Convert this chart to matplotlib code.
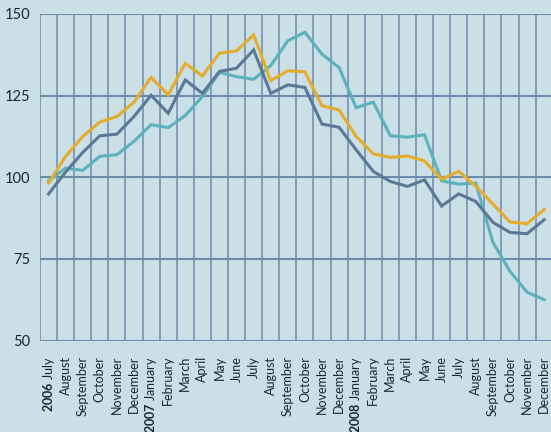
import matplotlib
matplotlib.use("Agg")
import matplotlib.pyplot as plt
import numpy as np

months = ["July", "August", "September", "October", "November", "December",
          "January", "February", "March", "April", "May", "June",
          "July", "August", "September", "October", "November", "December",
          "January", "February", "March", "April", "May", "June",
          "July", "August", "September", "October", "November", "December"]
years = {0: "2006", 6: "2007", 18: "2008"}

yellow = [98.2, 106.4, 112.5, 116.9, 118.6, 123.0, 130.6, 125.2, 134.9, 131.0,
          138.0, 138.7, 143.6, 129.6, 132.6, 132.3, 121.9, 120.6, 112.5, 107.2,
          106.1, 106.5, 105.0, 99.4, 101.8, 97.3, 91.8, 86.3, 85.8, 90.1]
slate = [94.9, 101.6, 107.6, 112.7, 113.2, 118.6, 125.1, 119.6, 129.8, 125.7,
         132.4, 133.4, 139.0, 125.7, 128.3, 127.5, 116.3, 115.3, 108.4, 101.8,
         98.7, 97.2, 99.2, 91.2, 94.9, 92.6, 86.2, 83.1, 82.7, 87.0]
teal = [98.9, 102.8, 102.1, 106.4, 106.9, 111.0, 116.1, 115.2, 118.9, 124.7,
        132.1, 130.8, 130.0, 134.2, 141.8, 144.4, 137.7, 133.6, 121.3, 123.0,
        112.7, 112.3, 113.0, 98.9, 97.9, 98.2, 80.1, 71.2, 64.8, 62.5]
yticks = [50, 75, 100, 125, 150]

plt.rcParams['font.family'] = ['Lato', 'DejaVu Sans']
plt.rcParams['mathtext.fontset'] = 'custom'
plt.rcParams['mathtext.bf'] = 'Lato:bold'
plt.rcParams['mathtext.rm'] = 'Lato'

bg = '#cadfe6'
gridc = '#6d8bab'
fig = plt.figure(figsize=(5.51, 4.32), dpi=100, facecolor=bg)
W, H = 551, 432
left, right, top, bottom = 40, 552.7, 14, 340.5
ax = fig.add_axes([left / W, 1 - bottom / H, (right - left) / W, (bottom - top) / H])
ax.set_facecolor(bg)

x = np.arange(len(months))
ax.plot(x, teal, color='#5cb2bb', lw=2.2, zorder=3, solid_joinstyle='miter')
ax.plot(x, slate, color='#5b7896', lw=2.2, zorder=3, solid_joinstyle='miter')
ax.plot(x, yellow, color='#e6ad2b', lw=2.2, zorder=4, solid_joinstyle='miter')

ax.set_xlim(-0.5, len(months) - 0.5)
ax.set_ylim(50, 150)
ax.set_yticks(yticks)
ax.set_yticklabels([str(v) for v in yticks], fontsize=10.5, color='#1c2633')
ax.set_xticks(x)
labels = []
for i, m in enumerate(months):
    if i in years:
        labels.append(r"$\mathbf{" + years[i] + "}$ " + m)
    else:
        labels.append(m)
ax.set_xticklabels(labels, rotation=90, fontsize=9, color='#1c2633', va='top')
ax.set_xticks(np.arange(-0.5, len(months) + 0.5, 1), minor=True)
ax.tick_params(axis='both', which='both', length=0)
ax.tick_params(axis='x', pad=11)
ax.tick_params(axis='y', pad=7)
ax.grid(True, which='minor', axis='x', color=gridc, lw=1.1, zorder=1)
ax.grid(True, which='major', axis='y', color=gridc, lw=1.5, zorder=1)
ax.grid(False, which='major', axis='x')
for s in ax.spines.values():
    s.set_visible(False)

fig.savefig('out.png', dpi=100, facecolor=bg)
